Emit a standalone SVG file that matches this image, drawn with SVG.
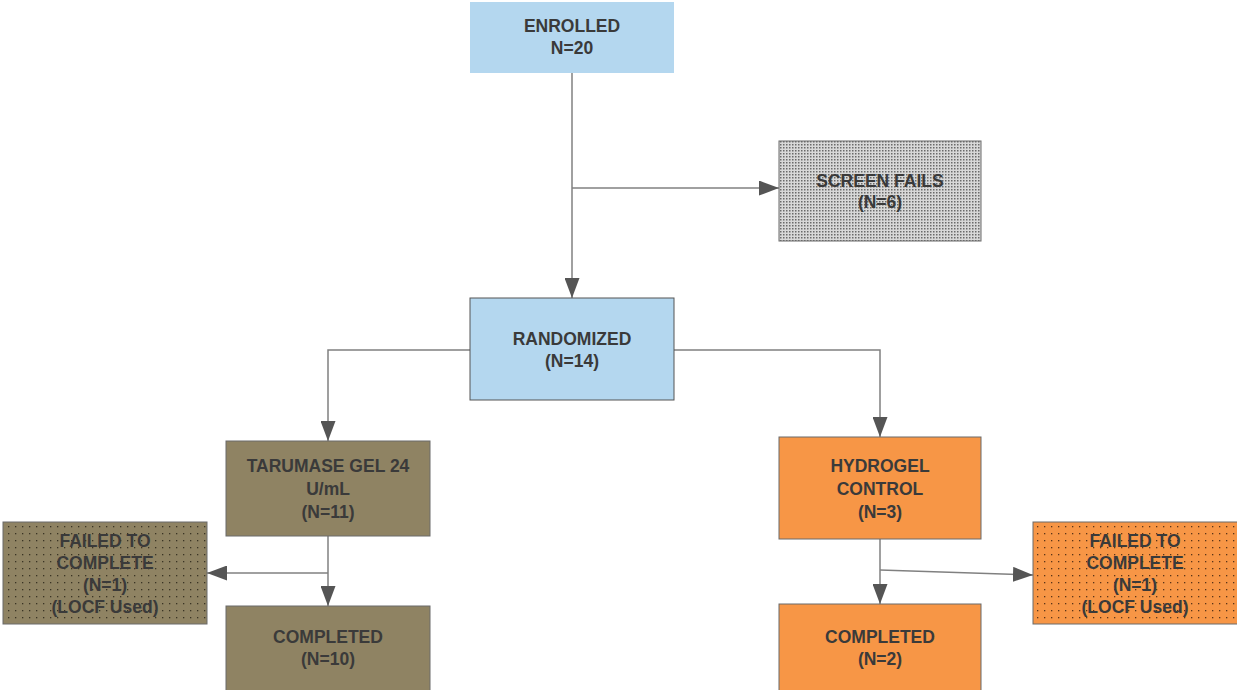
<svg xmlns="http://www.w3.org/2000/svg" width="1237" height="690" viewBox="0 0 1237 690">
<style>
.t{font-family:"Liberation Sans",Arial,sans-serif;font-weight:bold;font-size:17.5px;fill:#3a3a3a;text-anchor:middle}
.c{stroke:#808080;stroke-width:1.5;fill:none}
.blue{fill:#b4d7ef}
.brown{fill:#8f8363}
.orange{fill:#f79646}
.edge{stroke:#6a6a6a;stroke-width:1}
</style>
<defs>
<marker id="ah2" markerWidth="20" markerHeight="15" refX="20" refY="7.5" orient="auto" markerUnits="userSpaceOnUse" viewBox="0 0 20 15">
<path d="M0,0 L20,7.5 L0,15 z" fill="#555"/>
</marker>
<pattern id="dense" width="3" height="3" patternUnits="userSpaceOnUse">
<rect width="3" height="3" fill="#d8d8d8"/>
<rect x="0" y="0" width="1.5" height="1.5" fill="#6a6a6a"/>
</pattern>
<pattern id="sparseB" width="7" height="7" patternUnits="userSpaceOnUse">
<rect width="7" height="7" fill="#8f8363"/>
<rect x="1" y="1" width="1.3" height="1.3" fill="#3a3424"/>
</pattern>
<pattern id="sparseO" width="7" height="7" patternUnits="userSpaceOnUse">
<rect width="7" height="7" fill="#f79646"/>
<rect x="1" y="1" width="1.3" height="1.3" fill="#5a3418"/>
</pattern>
</defs>
<g id="connectors">
<path class="c" d="M572,73 V298" marker-end="url(#ah2)"/>
<path class="c" d="M572,188 H779" marker-end="url(#ah2)"/>
<path class="c" d="M470,350 H328 V441" marker-end="url(#ah2)"/>
<path class="c" d="M674,350 H880 V437" marker-end="url(#ah2)"/>
<path class="c" d="M328,536 V606" marker-end="url(#ah2)"/>
<path class="c" d="M328,573 H207" marker-end="url(#ah2)"/>
<path class="c" d="M880,539 V604" marker-end="url(#ah2)"/>
<path class="c" d="M880,570 L1033,575" marker-end="url(#ah2)"/>
</g>
<g id="enrolled">
<rect class="blue" x="470" y="2" width="204" height="71"/>
<text class="t" x="572" y="32">ENROLLED</text>
<text class="t" x="572" y="54">N=20</text>
</g>
<g id="screen-fails">
<rect x="779" y="141" width="202" height="100" fill="url(#dense)" class="edge"/>
<text class="t" x="880" y="187">SCREEN FAILS</text>
<text class="t" x="880" y="208">(N=6)</text>
</g>
<g id="randomized">
<rect class="blue" x="470" y="298" width="204" height="102" stroke="#555" stroke-width="1"/>
<text class="t" x="572" y="345">RANDOMIZED</text>
<text class="t" x="572" y="367">(N=14)</text>
</g>
<g id="tarumase">
<rect class="brown edge" x="226" y="441" width="204" height="95"/>
<text class="t" x="328" y="472">TARUMASE GEL 24</text>
<text class="t" x="328" y="495">U/mL</text>
<text class="t" x="328" y="518">(N=11)</text>
</g>
<g id="failed-left">
<rect x="3" y="522" width="204" height="102" fill="url(#sparseB)" class="edge"/>
<text class="t" x="105" y="547">FAILED TO</text>
<text class="t" x="105" y="569">COMPLETE</text>
<text class="t" x="105" y="591">(N=1)</text>
<text class="t" x="105" y="613">(LOCF Used)</text>
</g>
<g id="completed-left">
<rect class="brown edge" x="226" y="606" width="204" height="90"/>
<text class="t" x="328" y="643">COMPLETED</text>
<text class="t" x="328" y="665">(N=10)</text>
</g>
<g id="hydrogel">
<rect class="orange edge" x="779" y="437" width="202" height="102"/>
<text class="t" x="880" y="472">HYDROGEL</text>
<text class="t" x="880" y="495">CONTROL</text>
<text class="t" x="880" y="518">(N=3)</text>
</g>
<g id="failed-right">
<rect x="1033" y="522" width="206" height="102" fill="url(#sparseO)" class="edge"/>
<text class="t" x="1135" y="547">FAILED TO</text>
<text class="t" x="1135" y="569">COMPLETE</text>
<text class="t" x="1135" y="591">(N=1)</text>
<text class="t" x="1135" y="613">(LOCF Used)</text>
</g>
<g id="completed-right">
<rect class="orange edge" x="779" y="604" width="202" height="92"/>
<text class="t" x="880" y="643">COMPLETED</text>
<text class="t" x="880" y="665">(N=2)</text>
</g>
</svg>
